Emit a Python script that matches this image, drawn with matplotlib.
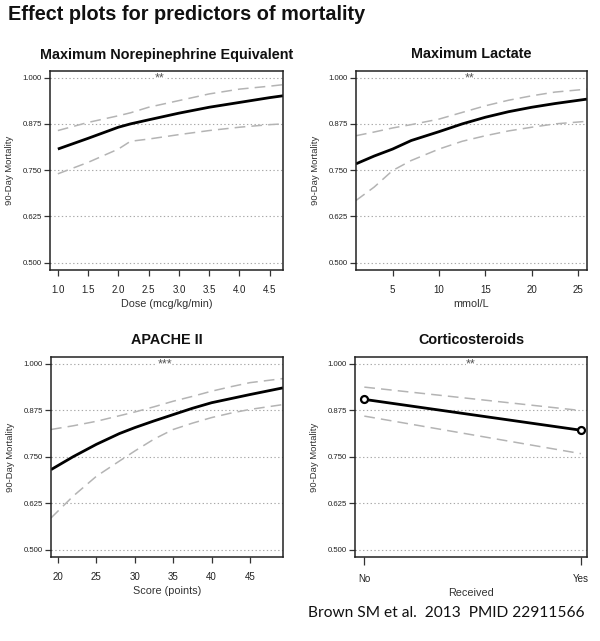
import matplotlib
matplotlib.use("Agg")
import matplotlib.pyplot as plt

plt.rcParams['font.family'] = ['Liberation Sans', 'DejaVu Sans']

# ---- data ----
main_title = "Effect plots for predictors of mortality"
citation = "Brown SM et al.  2013  PMID 22911566"
ylab = "90-Day Mortality"
y_ticks = [0.500, 0.625, 0.750, 0.875, 1.000]
y_ticklabels = ["0.500", "0.625", "0.750", "0.875", "1.000"]

ne_title = "Maximum Norepinephrine Equivalent"
ne_xlabel = "Dose (mcg/kg/min)"
ne_sig = "**"
ne_x = [1.0, 1.5, 2.0, 2.2, 2.5, 3.0, 3.5, 4.0, 4.5, 4.72]
ne_fit = [0.807, 0.836, 0.866, 0.875, 0.886, 0.904, 0.920, 0.933, 0.946, 0.951]
ne_up = [0.857, 0.879, 0.897, 0.905, 0.920, 0.938, 0.956, 0.969, 0.977, 0.981]
ne_lo = [0.740, 0.771, 0.807, 0.828, 0.834, 0.846, 0.857, 0.866, 0.873, 0.875]
ne_xticks = [1.0, 1.5, 2.0, 2.5, 3.0, 3.5, 4.0, 4.5]

la_title = "Maximum Lactate"
la_xlabel = "mmol/L"
la_sig = "**"
la_x = [1.05, 3, 5, 7, 10, 12.5, 15, 17.5, 20, 22.5, 25.95]
la_fit = [0.767, 0.788, 0.807, 0.830, 0.854, 0.875, 0.893, 0.908, 0.920, 0.930, 0.942]
la_up = [0.843, 0.853, 0.864, 0.873, 0.888, 0.906, 0.924, 0.939, 0.951, 0.961, 0.969]
la_lo = [0.668, 0.704, 0.749, 0.776, 0.807, 0.828, 0.843, 0.856, 0.866, 0.875, 0.882]
la_xticks = [5, 10, 15, 20, 25]

ap_title = "APACHE II"
ap_xlabel = "Score (points)"
ap_sig = "***"
ap_x = [19.1, 22, 25, 28, 30, 32.5, 35, 37.5, 40, 42.5, 45, 49.3]
ap_fit = [0.715, 0.750, 0.783, 0.812, 0.828, 0.846, 0.863, 0.880, 0.895, 0.906, 0.917, 0.935]
ap_up = [0.823, 0.833, 0.845, 0.860, 0.870, 0.884, 0.899, 0.912, 0.926, 0.938, 0.949, 0.960]
ap_lo = [0.585, 0.644, 0.697, 0.738, 0.765, 0.797, 0.823, 0.840, 0.855, 0.867, 0.877, 0.890]
ap_xticks = [20, 25, 30, 35, 40, 45]

co_title = "Corticosteroids"
co_xlabel = "Received"
co_sig = "**"
co_cats = ["No", "Yes"]
co_fit = [0.904, 0.821]
co_up = [0.937, 0.874]
co_lo = [0.859, 0.758]

# ---- figure ----
fig = plt.figure(figsize=(6.0, 6.41), dpi=100)
H = 641.0
W = 600.0

def make_ax(left, top, right, bottom):
    return fig.add_axes([left / W, 1 - bottom / H, (right - left) / W, (bottom - top) / H])

GRAY_DASH = "#b4b4b4"

def style(ax, title, xlabel, sig, sigx, xticks, xticklabels, xlim):
    ax.set_ylim(0.48, 1.018)
    ax.set_xlim(*xlim)
    for yv in y_ticks:
        ax.axhline(yv, color="#a8a8a8", lw=0.8, ls=(0, (1.2, 2.2)), zorder=0)
    ax.set_yticks(y_ticks)
    ax.set_yticklabels(y_ticklabels, fontsize=5.6, color="#222222")
    ax.set_xticks(xticks)
    ax.set_xticklabels(xticklabels, fontsize=7.0, color="#222222")
    ax.tick_params(axis="both", direction="out", length=4, width=0.9, color="#333333", pad=2)
    ax.tick_params(axis="x", pad=7)
    for s in ax.spines.values():
        s.set_linewidth(1.1)
        s.set_color("#222222")
    ax.set_title(title, fontsize=10.4, fontweight="bold", pad=9, color="#111111")
    ax.set_xlabel(xlabel, fontsize=7.8, color="#333333", labelpad=3)
    ax.set_ylabel(ylab, fontsize=6.8, color="#333333", labelpad=6)
    ax.text(sigx, 0.997, sig, transform=ax.get_yaxis_transform(), ha="center", va="center",
            fontsize=9, color="#555555",
            bbox=dict(facecolor="white", edgecolor="none", pad=0.3))

def curves(ax, x, fit, up, lo):
    ax.plot(x, up, color=GRAY_DASH, lw=1.1, ls=(0, (7, 4)))
    ax.plot(x, lo, color=GRAY_DASH, lw=1.1, ls=(0, (7, 4)))
    ax.plot(x, fit, color="black", lw=2.0, solid_capstyle="butt")

# panel 1
ax1 = make_ax(50, 71, 283, 270)
curves(ax1, ne_x, ne_fit, ne_up, ne_lo)
style(ax1, ne_title, ne_xlabel, ne_sig, 0.47, ne_xticks, [f"{v:.1f}" for v in ne_xticks], (0.87, 4.72))

# panel 2
ax2 = make_ax(356, 71, 587, 270)
curves(ax2, la_x, la_fit, la_up, la_lo)
style(ax2, la_title, la_xlabel, la_sig, 0.49, la_xticks, [str(v) for v in la_xticks], (1.05, 25.95))

# panel 3
ax3 = make_ax(51, 357, 283, 557)
curves(ax3, ap_x, ap_fit, ap_up, ap_lo)
style(ax3, ap_title, ap_xlabel, ap_sig, 0.49, ap_xticks, [str(v) for v in ap_xticks], (19.1, 49.3))

# panel 4
ax4 = make_ax(355, 357, 587, 557)
xpos = list(range(len(co_cats)))
ax4.plot(xpos, co_up, color=GRAY_DASH, lw=1.1, ls=(0, (7, 4)))
ax4.plot(xpos, co_lo, color=GRAY_DASH, lw=1.1, ls=(0, (7, 4)))
ax4.plot(xpos, co_fit, color="black", lw=2.0)
ax4.plot(xpos, co_fit, ls="none", marker="o", ms=5, mfc="white", mec="black", mew=1.6)
style(ax4, co_title, co_xlabel, co_sig, 0.50, xpos, co_cats, (-0.043, 1.028))
ax4.tick_params(axis="x", length=6, pad=6)

fig.text(8 / W, 1 - 15 / H, main_title, fontsize=14.3, fontweight="bold",
         ha="left", va="center", color="#111111")
fig.text(585 / W, 1 - 613 / H, citation, fontsize=11.2, ha="right", va="center",
         color="#111111", family=["Lato", "DejaVu Sans"])

fig.savefig("out.png", dpi=100, facecolor="white")
